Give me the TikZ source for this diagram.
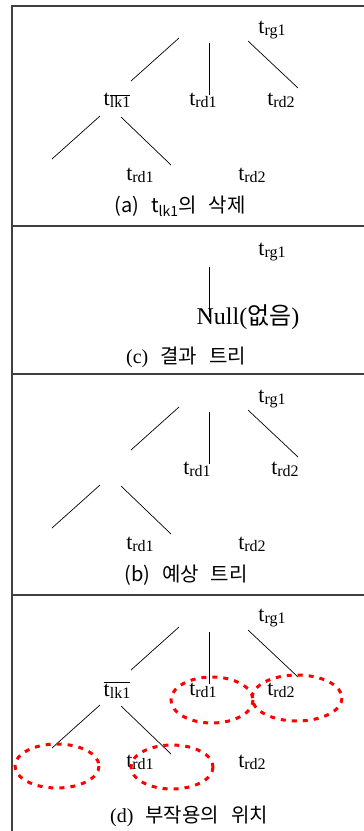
\documentclass[tikz,border=0pt]{standalone}
\usepackage{fontspec}
\setmainfont{Liberation Serif}
\newfontfamily\kr{Noto Sans CJK KR}
\usetikzlibrary{positioning}
\tikzset{
  lbl/.style={inner sep=0pt,font=\fontsize{22}{24}\selectfont},
  capt/.style={inner sep=0pt,font=\fontsize{20}{22}\selectfont},
  edge/.style={line width=0.7pt,draw=black},
  frame/.style={line width=1.3pt,draw=black!75},
  sidefx/.style={draw=red,line width=3pt,dash pattern=on 5pt off 6pt},
}
\newcommand{\lsub}[1]{\raisebox{-0.22ex}{\fontsize{16}{17}\selectfont #1}}
\newcommand{\tsub}[1]{t\lsub{#1}}
\newcommand{\wsp}{\hspace{0.6em}}

\begin{document}
\begin{tikzpicture}[x=1pt,y=-1pt]
    \useasboundingbox (0,0) rectangle (364,831);

    % frame and panel dividers
    \draw[frame] (12,831) -- (12,6) -- (364,6);
    \draw[frame] (12,226) -- (364,226);
    \draw[frame] (12,374) -- (364,374);
    \draw[frame] (12,595) -- (364,595);

    % (a) deletion of t_lk1
    \node[lbl] (a-rg) at (272,30) {\tsub{rg1}};
    \node[lbl] (a-lk) at (117,100) {t$\overline{\hbox{\lsub{lk1}}}$};
    \node[lbl] (a-rd1) at (203,100) {\tsub{rd1}};
    \node[lbl] (a-rd2) at (281,100) {\tsub{rd2}};
    \node[lbl] (a-bd1) at (140,175) {\tsub{rd1}};
    \node[lbl] (a-bd2) at (252,175) {\tsub{rd2}};
    \node[capt] (a-cap) at (180,206) {\kr (a)\wsp t\textsubscript{lk1}의\wsp 삭제};
    \begin{scope}
      \coordinate (a-t1) at (179,38);  \coordinate (a-b1) at (131,81);
      \coordinate (a-t2) at (209,43);  \coordinate (a-b2) at (209,95);
      \coordinate (a-t3) at (248,41);  \coordinate (a-b3) at (298,88);
      \coordinate (a-t4) at (100,116); \coordinate (a-b4) at (52,159);
      \coordinate (a-t5) at (121,117); \coordinate (a-b5) at (171,165);
      \foreach \k in {1,...,5} \draw[edge] (a-t\k) -- (a-b\k);
    \end{scope}

    % (c) resulting tree
    \node[lbl] (c-rg) at (272,252) {\tsub{rg1}};
    \node[lbl,font=\fontsize{24}{26}\selectfont] (c-null) at (248,317) {Null({\kr 없음})};
    \node[capt] (c-cap) at (186,357) {(c)\wsp{\kr 결과\wsp 트리}};
    \coordinate (c-top) at (209,267);
    \draw[edge] (c-top) -- (c-top |- c-null.center);

    % (b) expected tree
    \node[lbl] (b-rg) at (272,399) {\tsub{rg1}};
    \node[lbl] (b-rd1) at (197,469) {\tsub{rd1}};
    \node[lbl] (b-rd2) at (285,469) {\tsub{rd2}};
    \node[lbl] (b-bd1) at (140,544) {\tsub{rd1}};
    \node[lbl] (b-bd2) at (252,544) {\tsub{rd2}};
    \node[capt] (b-cap) at (186,575) {\kr (b)\wsp 예상\wsp 트리};
    \begin{scope}[shift={(0,369)}]
      \coordinate (b-t1) at (179,38);  \coordinate (b-b1) at (131,81);
      \coordinate (b-t2) at (209,43);  \coordinate (b-b2) at (209,95);
      \coordinate (b-t3) at (248,41);  \coordinate (b-b3) at (298,88);
      \coordinate (b-t4) at (100,116); \coordinate (b-b4) at (52,159);
      \coordinate (b-t5) at (121,117); \coordinate (b-b5) at (171,165);
      \foreach \k in {1,...,5} \draw[edge] (b-t\k) -- (b-b\k);
    \end{scope}

    % (d) where the side effects are
    \node[lbl] (d-rg) at (272,618) {\tsub{rg1}};
    \node[lbl] (d-lk) at (117,690) {$\overline{\hbox{\tsub{lk1}}}$};
    \node[lbl] (d-rd1) at (203,690) {\tsub{rd1}};
    \node[lbl] (d-rd2) at (281,690) {\tsub{rd2}};
    \node[lbl] (d-bd1) at (140,762) {\tsub{rd1}};
    \node[lbl] (d-bd2) at (252,762) {\tsub{rd2}};
    \node[capt] (d-cap) at (189,816) {(d)\wsp{\kr 부작용의\wsp 위치}};
    \begin{scope}[shift={(0,589)}]
      \coordinate (d-t1) at (179,38);  \coordinate (d-b1) at (131,81);
      \coordinate (d-t2) at (209,43);  \coordinate (d-b2) at (209,95);
      \coordinate (d-t3) at (248,41);  \coordinate (d-b3) at (298,88);
      \coordinate (d-t4) at (100,116); \coordinate (d-b4) at (52,159);
      \coordinate (d-t5) at (121,117); \coordinate (d-b5) at (171,165);
      \foreach \k in {1,...,5} \draw[edge] (d-t\k) -- (d-b\k);
    \end{scope}
    \draw[sidefx] (212,700) ellipse [x radius=41,y radius=23];
    \draw[sidefx] (297,698) ellipse [x radius=45,y radius=23];
    \draw[sidefx] (57,766)  ellipse [x radius=42,y radius=22];
    \draw[sidefx] (172,767) ellipse [x radius=41,y radius=22];
  \end{tikzpicture}
\end{document}
